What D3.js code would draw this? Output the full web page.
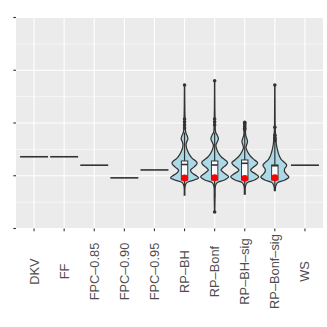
<!DOCTYPE html>
<html>
<head>
<meta charset="utf-8">
<script src="https://cdn.jsdelivr.net/npm/d3@7"></script>
<style>
  body { margin: 0; background: #ffffff; }
</style>
</head>
<body>
<div class="displayContainer"></div>
<script>
// categories along the x axis
const categories = ['DKV', 'FF', 'FPC–0.85', 'FPC–0.90', 'FPC–0.95', 'RP–BH', 'RP–Bonf', 'RP–BH–sig', 'RP–Bonf–sig', 'WS'];

// methods with a single constant value (drawn as flat violins)
const flatNames  = ['DKV', 'FF', 'FPC–0.85', 'FPC–0.90', 'FPC–0.95', 'WS'];
const flatValues = [1.36, 1.36, 1.20, 0.96, 1.11, 1.20];

// violin outlines: [value, relative width]
const profileBH = [[0.635,0.02],[0.8,0.04],[0.87,0.16],[0.92,0.7],[0.96,1.0],[1.0,0.85],[1.05,0.55],[1.10,0.42],[1.15,0.6],[1.20,0.82],[1.24,0.9],[1.28,0.8],[1.33,0.55],[1.40,0.35],[1.47,0.22],[1.53,0.14],[1.59,0.11],[1.64,0.15],[1.70,0.24],[1.75,0.2],[1.81,0.1],[1.87,0.06],[2.0,0.04],[2.3,0.02],[2.72,0.01]];
const profileBonf = [[0.313,0.01],[0.6,0.03],[0.8,0.05],[0.87,0.18],[0.92,0.7],[0.98,1.0],[1.03,0.8],[1.08,0.55],[1.11,0.45],[1.16,0.62],[1.21,0.85],[1.255,0.92],[1.30,0.75],[1.35,0.5],[1.41,0.32],[1.47,0.2],[1.53,0.12],[1.58,0.09],[1.64,0.18],[1.70,0.27],[1.76,0.2],[1.82,0.08],[1.87,0.05],[2.0,0.035],[2.3,0.015],[2.8,0.01]];
const profileBHsig = [[0.65,0.03],[0.8,0.05],[0.87,0.18],[0.92,0.7],[0.98,1.0],[1.03,0.8],[1.08,0.5],[1.11,0.42],[1.16,0.62],[1.21,0.85],[1.25,0.92],[1.30,0.7],[1.36,0.45],[1.42,0.28],[1.48,0.16],[1.53,0.09],[1.59,0.14],[1.65,0.2],[1.71,0.14],[1.77,0.07],[1.85,0.05],[1.95,0.03],[2.01,0.01]];
const profileBonfSig = [[0.717,0.03],[0.8,0.06],[0.87,0.2],[0.92,0.72],[0.975,1.0],[1.03,0.82],[1.09,0.68],[1.13,0.7],[1.2,0.85],[1.25,0.7],[1.31,0.45],[1.37,0.33],[1.43,0.25],[1.5,0.18],[1.56,0.13],[1.62,0.1],[1.68,0.08],[1.75,0.06],[1.85,0.035],[2.0,0.02],[2.3,0.015],[2.72,0.01]];

const violinNames    = ['RP–BH', 'RP–Bonf', 'RP–BH–sig', 'RP–Bonf–sig'];
const violinProfiles = [profileBH, profileBonf, profileBHsig, profileBonfSig];

// boxplot stats: [lower whisker, q1, median, q3, upper whisker]
const boxStats = [
  [0.635, 0.92, 1.213, 1.28, 1.82],
  [0.60, 0.92, 1.204, 1.28, 1.82],
  [0.65, 0.92, 1.236, 1.299, 1.85],
  [0.717, 0.92, 1.19, 1.204, 1.63]
];
// outliers per violin
const outliers = [
  [2.72, 2.076, 2.019, 1.962, 1.905],
  [2.802, 2.076, 2.019, 1.962, 0.313],
  [2.013, 1.99, 1.96, 1.93, 1.90, 1.87],
  [2.72, 1.918, 1.77, 1.72, 1.69, 1.66]
];
// mean (red dot)
const means = [0.957, 0.963, 0.952, 0.963];

// y axis breaks (labels are blank in the original)
const majorBreaks = [0, 1, 2, 3, 4];
const minorBreaks = [0.5, 1.5, 2.5, 3.5];

//canvas
const width = 327, height = 327;
const panel = { left: 16, right: 323, top: 17.5, bottom: 228.5 };

const svg = d3.select('.displayContainer')
              .append('svg')
              .attr('width', width)
              .attr('height', height)
              .style('font-family', '"Liberation Sans", Arial, sans-serif');

const xScale = d3.scalePoint()
                 .domain(categories)
                 .range([panel.left, panel.right])
                 .padding(0.6);

const yScale = d3.scaleLinear()
                 .domain([0, 4])
                 .range([panel.bottom, panel.top]);

const halfW = xScale.step() * 0.465;

// panel background + grid
svg.append('rect')
   .attr('x', panel.left)
   .attr('y', panel.top)
   .attr('width', panel.right - panel.left)
   .attr('height', panel.bottom - panel.top)
   .attr('fill', '#ebebeb');

svg.selectAll('.minor-grid')
   .data(minorBreaks)
   .enter()
   .append('line')
   .attr('x1', panel.left).attr('x2', panel.right)
   .attr('y1', d => yScale(d)).attr('y2', d => yScale(d))
   .attr('stroke', '#ffffff')
   .attr('stroke-width', 0.55);

svg.selectAll('.major-grid-y')
   .data(majorBreaks)
   .enter()
   .append('line')
   .attr('x1', panel.left).attr('x2', panel.right)
   .attr('y1', d => yScale(d)).attr('y2', d => yScale(d))
   .attr('stroke', '#ffffff')
   .attr('stroke-width', 1.1);

svg.selectAll('.major-grid-x')
   .data(categories)
   .enter()
   .append('line')
   .attr('x1', d => xScale(d)).attr('x2', d => xScale(d))
   .attr('y1', panel.top).attr('y2', panel.bottom)
   .attr('stroke', '#ffffff')
   .attr('stroke-width', 1.1);

// flat violins (single value) -> horizontal segment
svg.selectAll('.flat')
   .data(flatNames)
   .enter()
   .append('line')
   .attr('x1', d => xScale(d) - halfW)
   .attr('x2', d => xScale(d) + halfW)
   .attr('y1', (d, i) => yScale(flatValues[i]))
   .attr('y2', (d, i) => yScale(flatValues[i]))
   .attr('stroke', '#333333')
   .attr('stroke-width', 1.6);

// violins
violinNames.forEach((name, i) => {
    const cx = xScale(name);
    const area = d3.area()
                   .curve(d3.curveCatmullRom)
                   .y(d => yScale(d[0]))
                   .x0(d => cx - d[1] * halfW)
                   .x1(d => cx + d[1] * halfW);

    svg.append('path')
       .attr('d', area(violinProfiles[i]))
       .attr('fill', '#add8e6')
       .attr('stroke', '#333333')
       .attr('stroke-width', 1.25);

    const s = boxStats[i];
    const bw = 3.2;
    // whiskers
    svg.append('line')
       .attr('x1', cx).attr('x2', cx)
       .attr('y1', yScale(s[3])).attr('y2', yScale(s[4]))
       .attr('stroke', '#333333').attr('stroke-width', 1.2);
    svg.append('line')
       .attr('x1', cx).attr('x2', cx)
       .attr('y1', yScale(s[1])).attr('y2', yScale(s[0]))
       .attr('stroke', '#333333').attr('stroke-width', 1.2);
    // box
    svg.append('rect')
       .attr('x', cx - bw)
       .attr('y', yScale(s[3]))
       .attr('width', bw * 2)
       .attr('height', yScale(s[1]) - yScale(s[3]))
       .attr('fill', '#ffffff')
       .attr('stroke', '#333333')
       .attr('stroke-width', 1);
    svg.append('line')
       .attr('x1', cx - bw).attr('x2', cx + bw)
       .attr('y1', yScale(s[2])).attr('y2', yScale(s[2]))
       .attr('stroke', '#333333').attr('stroke-width', 1.6);

    // outliers
    svg.selectAll('.out' + i)
       .data(outliers[i])
       .enter()
       .append('circle')
       .attr('cx', cx)
       .attr('cy', d => yScale(d))
       .attr('r', 1.8)
       .attr('fill', '#333333');

    // mean
    svg.append('circle')
       .attr('cx', cx)
       .attr('cy', yScale(means[i]))
       .attr('r', 3.4)
       .attr('fill', '#ff0000');
});

// y axis ticks, no labels
svg.selectAll('.ytick')
   .data(majorBreaks)
   .enter()
   .append('line')
   .attr('x1', panel.left - 2.7).attr('x2', panel.left)
   .attr('y1', d => yScale(d)).attr('y2', d => yScale(d))
   .attr('stroke', '#333333')
   .attr('stroke-width', 1.1);

// x axis ticks
svg.selectAll('.xtick')
   .data(categories)
   .enter()
   .append('line')
   .attr('x1', d => xScale(d)).attr('x2', d => xScale(d))
   .attr('y1', panel.bottom).attr('y2', panel.bottom + 2.7)
   .attr('stroke', '#333333')
   .attr('stroke-width', 1.1);

// x labels, rotated 90, centred in the label strip
const labels = svg.selectAll('.xlabel')
                  .data(categories)
                  .enter()
                  .append('text')
                  .attr('fill', '#4d4d4d')
                  .style('font-size', '12.8px')
                  .attr('text-anchor', 'middle')
                  .attr('dominant-baseline', 'central')
                  .text(d => d);

const maxLen = d3.max(labels.nodes(), n => n.getComputedTextLength());
const labelMid = panel.bottom + 2.7 + 3 + maxLen / 2;

labels.attr('transform', d => 'translate(' + xScale(d) + ',' + labelMid + ') rotate(-90)');
</script>
</body>
</html>
